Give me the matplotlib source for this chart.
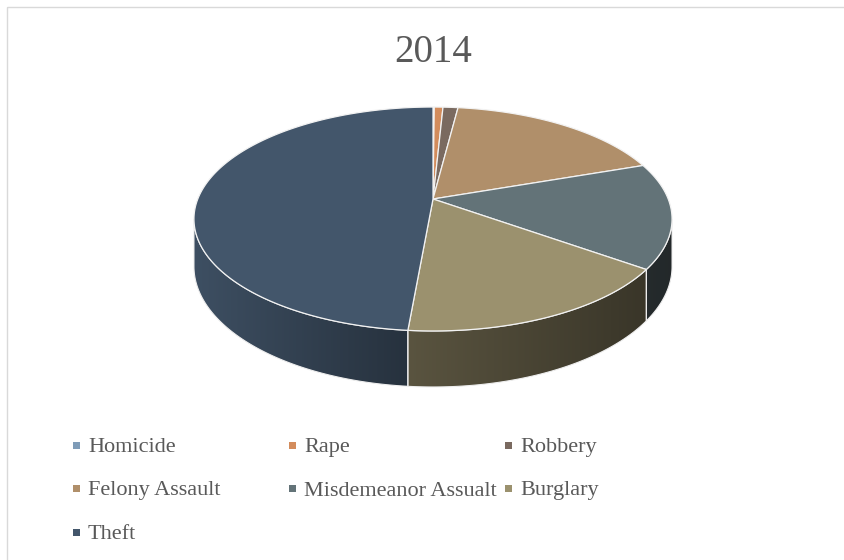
import numpy as np
import matplotlib
matplotlib.use("Agg")
import matplotlib.pyplot as plt
from matplotlib.patches import Polygon, Rectangle
from matplotlib.colors import to_rgb

# Data (share of crimes, 2014, in percent)
labels = ["Homicide", "Rape", "Robbery", "Felony Assault",
          "Misdemeanor Assualt", "Burglary", "Theft"]
values = [0.1, 0.7, 1.2, 17.7, 15.2, 16.5, 48.6]
colors = ["#7f9cb8", "#d38c5c", "#7a6a60", "#b08f6a",
          "#637378", "#9b916e", "#43566b"]
title = "2014"

# Geometry of the 3-D pie (pixel space)
W, H = 845, 560
CX, CY = 433, 199      # pie centre
R, S = 235.2, 108.4    # radii before perspective
P = 0.1786             # perspective strength
D = 46.0               # pie thickness
FONT = "Liberation Serif"
TXT = "#595959"


def proj(theta, z=0.0):
    b = np.cos(theta)
    w = 1 + P * b
    x = CX + R * np.sin(theta) / w
    y = CY - S * b / w + z * D / w
    return x, y


def shade(x):
    # global horizontal light gradient on the side walls
    return np.interp(x, [193, 407, 645, 680], [0.92, 0.58, 0.37, 0.35])


fig = plt.figure(figsize=(W / 100, H / 100), dpi=100)
ax = fig.add_axes([0, 0, 1, 1])
ax.axis("off")

fracs = np.array(values) / np.sum(values)
ends = np.cumsum(fracs) * 2 * np.pi
starts = ends - fracs * 2 * np.pi

# side walls (only the front part is visible)
vis_lo = np.arccos(-P)
vis_hi = 2 * np.pi - vis_lo
for a, b, c in zip(starts, ends, colors):
    lo, hi = max(a, vis_lo), min(b, vis_hi)
    if hi <= lo:
        continue
    t = np.linspace(lo, hi, 200)
    xt, yt = proj(t, 0)
    xb, yb = proj(t[::-1], 1)
    pts = np.column_stack([np.r_[xt, xb], np.r_[yt, yb]])
    wall = Polygon(pts, closed=True, facecolor="none", edgecolor="none")
    ax.add_patch(wall)
    x0, x1 = pts[:, 0].min(), pts[:, 0].max()
    y0, y1 = pts[:, 1].min(), pts[:, 1].max()
    xs = np.linspace(x0, x1, 300)
    grad = np.array(to_rgb(c))[None, :] * shade(xs)[:, None]
    img = np.repeat(grad[None, :, :], 2, axis=0)
    im = ax.imshow(img, extent=(x0, x1, y1, y0), aspect="auto",
                   interpolation="bilinear", zorder=1)
    im.set_clip_path(wall)
    ax.add_patch(Polygon(pts, closed=True, facecolor="none",
                         edgecolor="#eeeeee", lw=0.8, zorder=2))

# top faces
for a, b, c in zip(starts, ends, colors):
    t = np.linspace(a, b, max(int((b - a) * 60), 2))
    xt, yt = proj(t, 0)
    pts = np.column_stack([np.r_[CX, xt], np.r_[CY, yt]])
    ax.add_patch(Polygon(pts, closed=True, facecolor=c,
                         edgecolor="#f2f2f2", lw=0.9, zorder=3))

# title
ax.text(433, 62, title, ha="center", va="baseline", fontsize=28,
        color=TXT, family=FONT)

# legend, three columns
for i, (lab, c) in enumerate(zip(labels, colors)):
    col, row = i % 3, i // 3
    y = 445 + row * 43.5
    ax.add_patch(Rectangle((73 + col * 216, y - 3.5), 7, 7,
                           facecolor=c, edgecolor="none"))
    ax.text(88 + col * 216, y + 7, lab, ha="left", va="baseline",
            fontsize=16, color=TXT, family=FONT)

# chart border
ax.add_patch(Rectangle((7, 7), W, H, facecolor="none",
                       edgecolor="#d9d9d9", lw=1.0))

ax.set_xlim(0, W)
ax.set_ylim(H, 0)
fig.savefig("out.png", dpi=100)
